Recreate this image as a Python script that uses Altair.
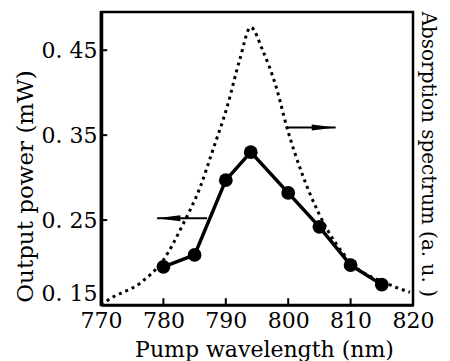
import altair as alt
import pandas as pd

# Output power (solid line with markers)
power_wl = [780, 785, 790, 794, 800, 805, 810, 815]
power_mw = [0.195, 0.209, 0.297, 0.330, 0.282, 0.242, 0.197, 0.174]

# Absorption spectrum (dotted curve, in left-axis units)
abs_wl = [770, 771.6, 776.3, 780, 783.2, 785.9, 787.9, 790.2, 792.2, 794,
          795.9, 798.1, 799.8, 802.2, 804.9, 810.2, 815.6, 819.5]
abs_val = [0.150, 0.158, 0.176, 0.203, 0.246, 0.289, 0.332, 0.383, 0.438, 0.477,
           0.450, 0.406, 0.359, 0.305, 0.258, 0.199, 0.176, 0.165]

x_ticks = [770, 780, 790, 800, 810, 820]
y_ticks = [0.15, 0.25, 0.35, 0.45]
x_inner_ticks = [780, 790, 800, 810]

x_min, x_max = 770, 820
y_min, y_max = 0.15, 0.495

right_title = "Absorption spectrum (a. u. )"

# arrows: left arrow -> output power axis, right arrow -> absorption axis
arrow_left = {"x0": 787.0, "x1": 779.0, "y": 0.252, "head": 780.8}
arrow_right = {"x0": 799.8, "x1": 807.6, "y": 0.359, "head": 805.7}

FONT = "DejaVu Serif"

power = pd.DataFrame({"wl": power_wl, "v": power_mw})
absd = pd.DataFrame({"wl": abs_wl, "v": abs_val})
xt = pd.DataFrame({"wl": x_inner_ticks, "v": [y_min] * 4, "v2": [y_min + 0.008] * 4})
yt = pd.DataFrame({"wl": [x_min] * 4, "wl2": [x_min + 1.0] * 4, "v": y_ticks})
arrows = pd.DataFrame({
    "wl": [arrow_left["x0"], arrow_right["x0"]],
    "wl2": [arrow_left["x1"], arrow_right["x1"]],
    "v": [arrow_left["y"], arrow_right["y"]],
})
head_l = pd.DataFrame({"wl": [arrow_left["head"]], "v": [arrow_left["y"]]})
head_r = pd.DataFrame({"wl": [arrow_right["head"]], "v": [arrow_right["y"]]})
rt = pd.DataFrame({"wl": [x_max], "v": [(y_min + y_max) / 2 + 0.005], "t": [right_title]})

xs = alt.Scale(domain=[x_min, x_max], nice=False, zero=False)
ys = alt.Scale(domain=[y_min, y_max], nice=False, zero=False)

xaxis = alt.Axis(values=x_ticks, format="d", title="Pump wavelength (nm)",
                 tickSize=0, domain=True, domainColor="black", domainWidth=2.5,
                 labelPadding=5, labelFont=FONT, labelFlush=False, labelOverlap=False,
                 labelFontSize=22, labelColor="black", titleFont=FONT,
                 titleFontSize=22, titleFontWeight="normal", titleColor="black",
                 titleX=163, titleY=44, titleBaseline="middle", grid=False)
yaxis = alt.Axis(values=y_ticks, labelExpr="replace(format(datum.value, '.2f'), '.', '. ')",
                 title="Output power (mW)", tickSize=0, domain=True,
                 domainColor="black", domainWidth=3.5,
                 labelFlush=True, labelOverlap=False,
                 labelPadding=4, labelFont=FONT, labelFontSize=22,
                 labelColor="black", titleFont=FONT, titleFontSize=23,
                 titleFontWeight="normal", titleColor="black", titleAngle=-90,
                 titleX=-76, titleY=174, titleAlign="center",
                 titleBaseline="middle", grid=False)

X = alt.X("wl:Q", scale=xs, axis=xaxis)
Y = alt.Y("v:Q", scale=ys, axis=yaxis)

line = alt.Chart(power).mark_line(color="black", strokeWidth=3.5).encode(x=X, y=Y)
pts = alt.Chart(power).mark_point(filled=True, color="black", opacity=1, size=190).encode(x=X, y=Y)
dotted = alt.Chart(absd).mark_line(color="black", strokeWidth=3, strokeDash=[3, 4],
                                   interpolate="monotone").encode(x=X, y=Y)
xtick = alt.Chart(xt).mark_rule(color="black", strokeWidth=2).encode(x=X, y=Y, y2="v2:Q")
ytick = alt.Chart(yt).mark_rule(color="black", strokeWidth=2).encode(x=X, x2="wl2:Q", y=Y)
arr = alt.Chart(arrows).mark_rule(color="black", strokeWidth=2).encode(x=X, x2="wl2:Q", y=Y)
hl = alt.Chart(head_l).mark_point(shape="M-1,0L1,-0.25L1,0.25Z", filled=True, color="black",
                                  opacity=1, size=576).encode(x=X, y=Y)
hr = alt.Chart(head_r).mark_point(shape="M1,0L-1,-0.25L-1,0.25Z", filled=True, color="black",
                                  opacity=1, size=576).encode(x=X, y=Y)
rtext = alt.Chart(rt).mark_text(angle=90, font=FONT, fontSize=20, color="black",
                                dx=0, dy=-15, align="center", baseline="middle").encode(
    x=X, y=Y, text="t:N")

chart = alt.layer(dotted, line, pts, xtick, ytick, arr, hl, hr, rtext).properties(
    width=312, height=293,
    autosize=alt.AutoSizeParams(type="none"),
    padding={"left": 101, "top": 12, "right": 37, "bottom": 56},
    background="white",
).configure_view(stroke="black", strokeWidth=2.5)

chart.save("out.html", embed_options={"renderer": "svg", "actions": False})
